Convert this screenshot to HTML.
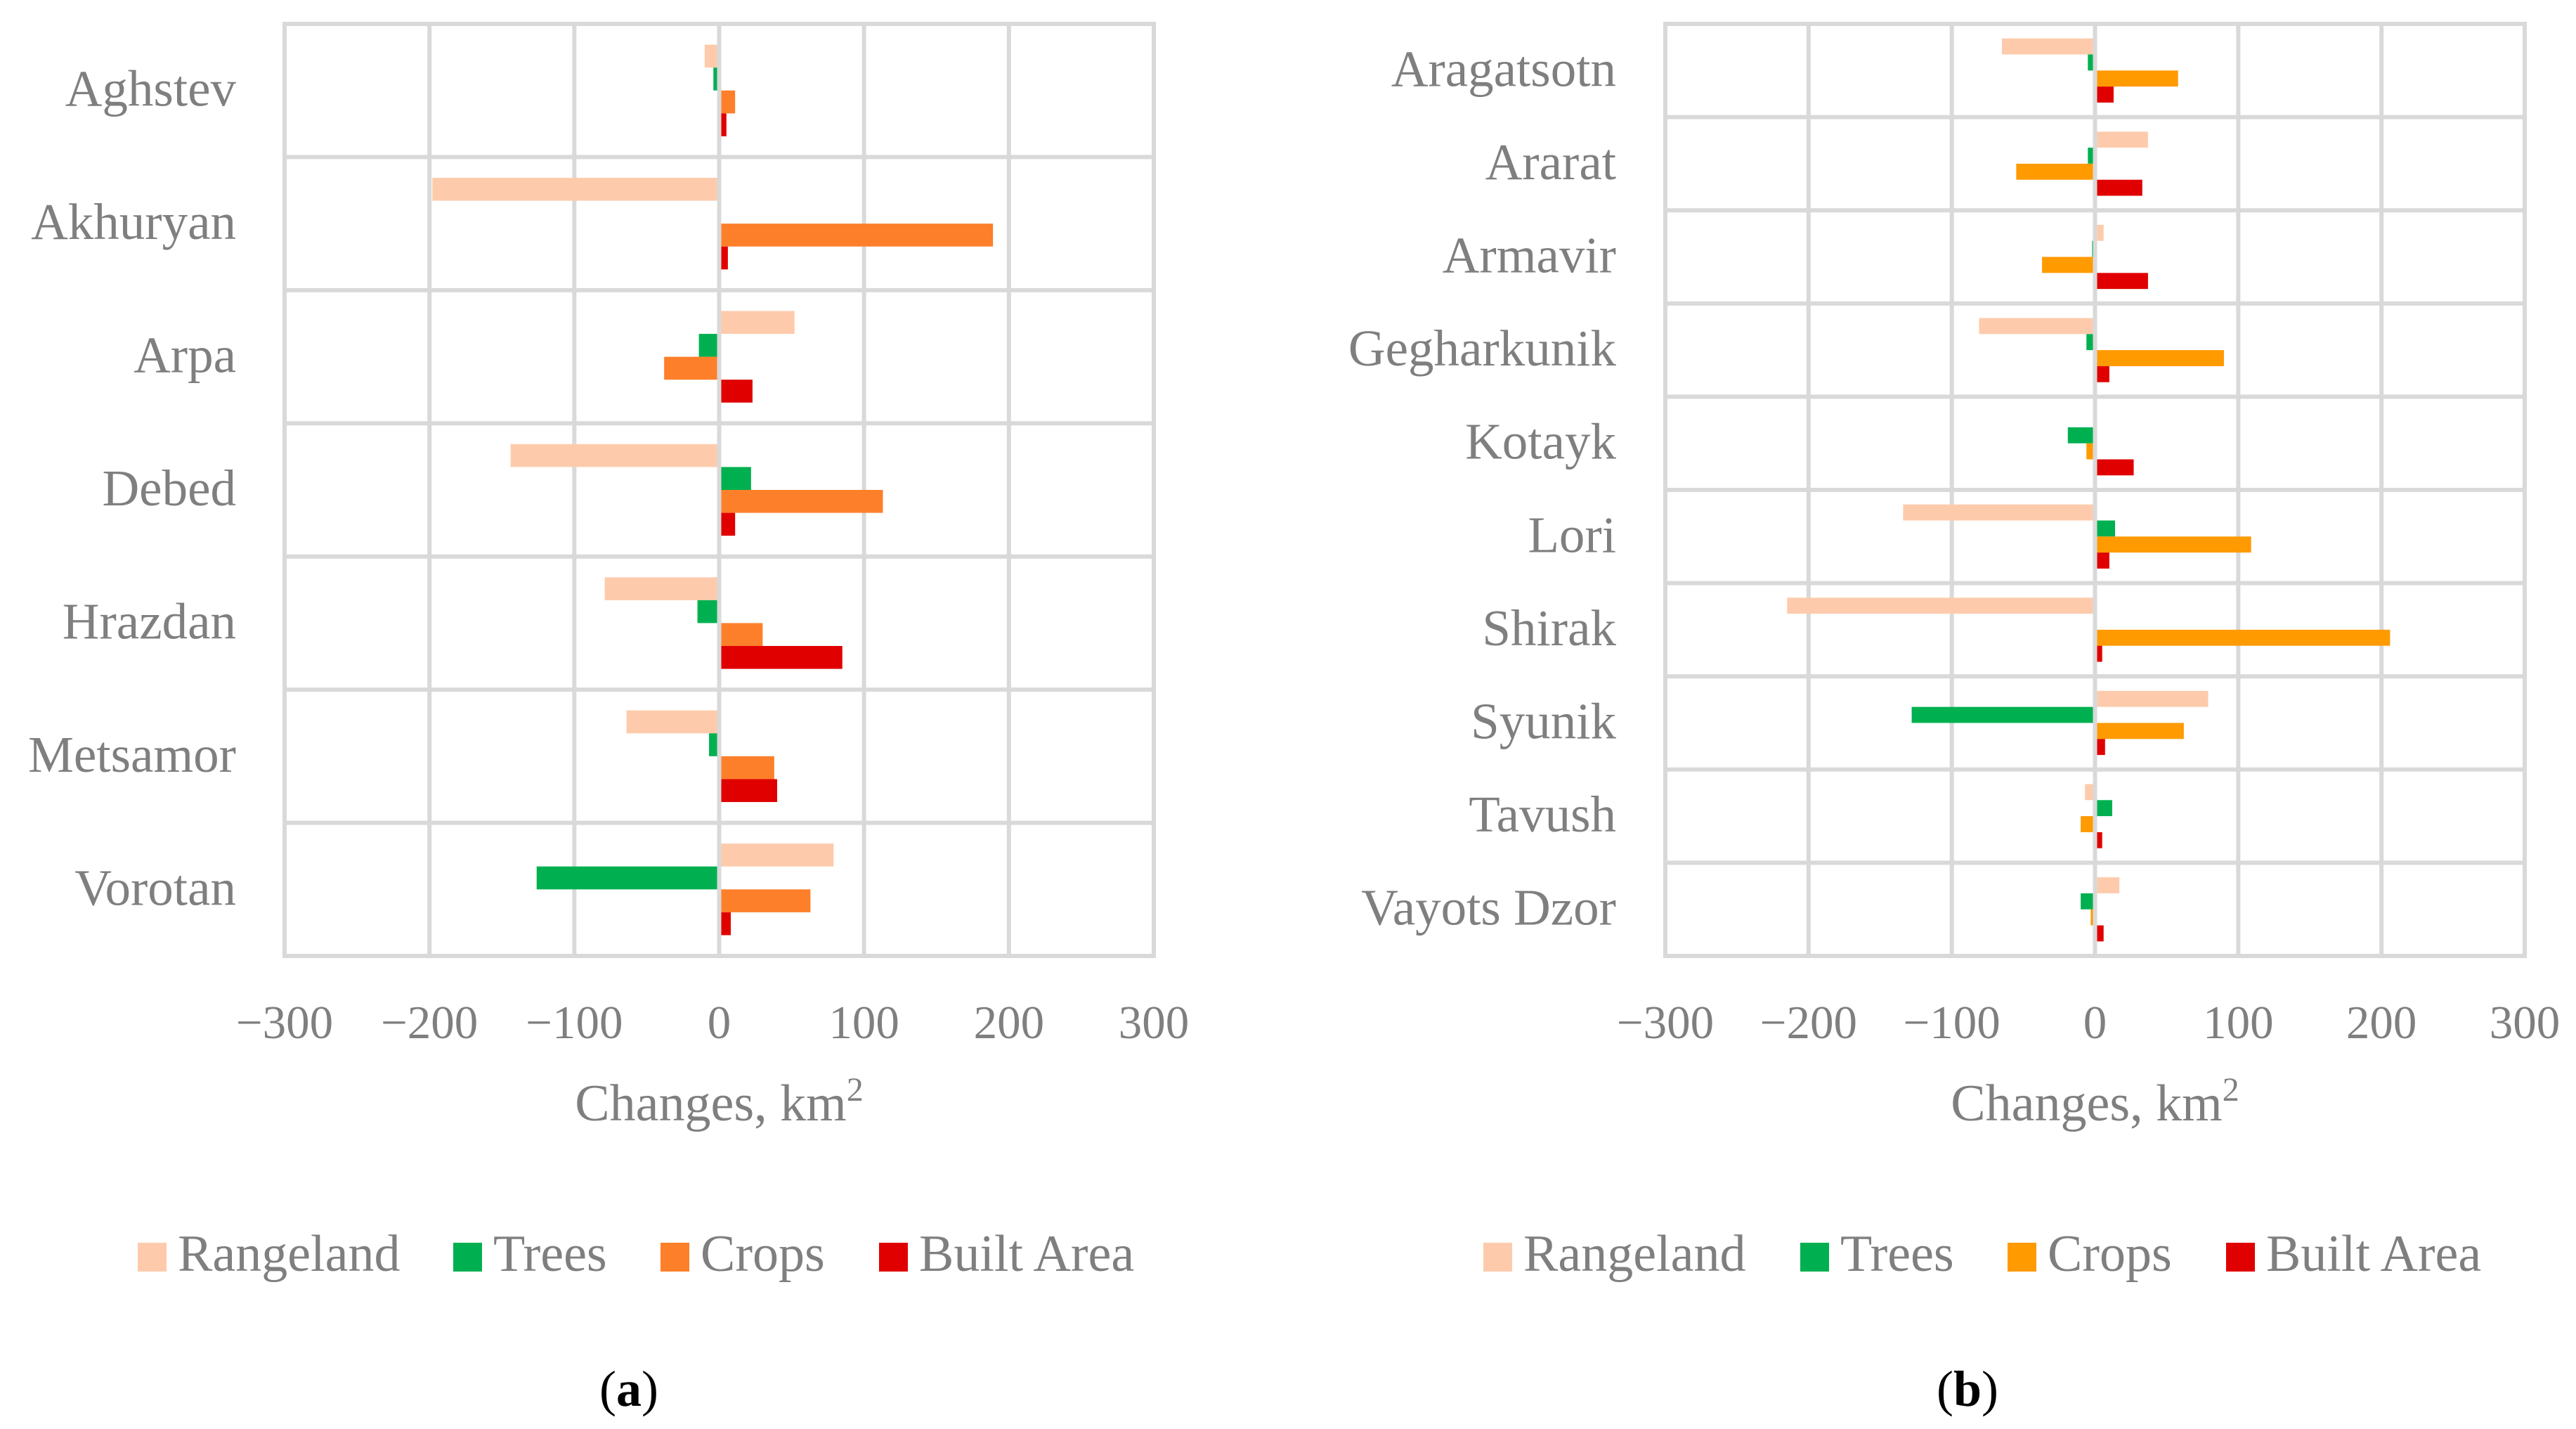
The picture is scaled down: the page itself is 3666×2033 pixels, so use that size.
<!DOCTYPE html>
<html><head><meta charset="utf-8">
<style>
html,body{margin:0;padding:0;background:#fff;}
svg{display:block;}
text{font-family:"Liberation Serif",serif;}
</style></head>
<body>
<svg id="fig" width="3666" height="2033" viewBox="0 0 3666 2033" xmlns="http://www.w3.org/2000/svg"></svg>
<script>
// ---- data chart (a): river basins ----
const catsA = ["Aghstev","Akhuryan","Arpa","Debed","Hrazdan","Metsamor","Vorotan"];
const rangelandA = [-10,-198,52,-144,-79,-64,79];
const treesA = [-4,0,-14,22,-15,-7,-126];
const cropsA = [11,189,-38,113,30,38,63];
const builtA = [5,6,23,11,85,40,8];
// ---- data chart (b): provinces ----
const catsB = ["Aragatsotn","Ararat","Armavir","Gegharkunik","Kotayk","Lori","Shirak","Syunik","Tavush","Vayots Dzor"];
const rangelandB = [-65,37,6,-81,1,-134,-215,79,-7,17];
const treesB = [-5,-5,-2,-6,-19,14,0,-128,12,-10];
const cropsB = [58,-55,-37,90,-6,109,206,62,-10,-3];
const builtB = [13,33,37,10,27,10,5,7,5,6];
const ticks = [-300,-200,-100,0,100,200,300];
const tickLabels = ["\u2212300","\u2212200","\u2212100","0","100","200","300"];
const seriesNames = ["Rangeland","Trees","Crops","Built Area"];

const NS="http://www.w3.org/2000/svg";
const svg=document.getElementById('fig');
function mk(tag,attrs,parent){const e=document.createElementNS(NS,tag);for(const k in attrs)e.setAttribute(k,attrs[k]);(parent||svg).appendChild(e);return e;}

function chart(o){
  const g=mk('g',{});
  
  
  const L=o.left,R=o.right,T=34,B=1360;
  const xs=v=>L+(v+300)/600*(R-L);
  const n=o.cats.length, band=(B-T)/n;
  ticks.forEach((t,i)=>{
    const ln=mk('line',{x1:xs(t),x2:xs(t),y1:T,y2:B,stroke:'#d9d9d9','stroke-width':6},g);
    
    
    const tx=mk('text',{x:xs(t),y:1477,'font-size':67,fill:'#7f7f7f','text-anchor':'middle'},g);
    tx.textContent=tickLabels[i];
    
    
  });
  for(let i=0;i<=n;i++){
    const ln=mk('line',{x1:L-3,x2:R+3,y1:T+i*band,y2:T+i*band,stroke:'#d9d9d9','stroke-width':6},g);
    
    
  }
  const series=[o.r,o.t,o.c,o.b];
  const bh=band*0.172, off=band*0.156;
  o.cats.forEach((c,i)=>{
    const y0=T+i*band;
    const lb=mk('text',{x:o.labelX,y:y0+band/2+22,'font-size':73,fill:'#7f7f7f','text-anchor':'end'},g);
    lb.textContent=c;
    
    
    series.forEach((s,j)=>{
      const v=s[i];
      const w=Math.abs(xs(v)-xs(0))-3;
      const rc=mk('rect',{x:v>=0?xs(0)+3:xs(v),y:y0+off+j*bh,width:Math.max(0,w),height:bh,fill:o.colors[j]},g);
      
      
    });
  });
  const at=mk('text',{x:xs(0),y:1594,'font-size':74,fill:'#7f7f7f','text-anchor':'middle'},g);
  at.innerHTML='Changes, km<tspan dy="-28" font-size="48">2</tspan>';
  
  
  seriesNames.forEach((nm,j)=>{
    const sw=mk('rect',{x:o.legSw[j],y:1768,width:41,height:41,fill:o.colors[j]},g);
    
    
    const lt=mk('text',{x:o.legSw[j]+57,y:1808,'font-size':74,fill:'#7f7f7f'},g);
    lt.textContent=nm;
    
    
  });
  const pl=mk('text',{x:o.panelX,y:2000,'font-size':72,fill:'#000','text-anchor':'middle'},g);
  pl.innerHTML='(<tspan font-weight="bold">'+o.panel+'</tspan>)';
  
  
}
chart({name:'chart-a-river-basins',left:405,right:1642,labelX:336,cats:catsA,r:rangelandA,t:treesA,c:cropsA,b:builtA,
  colors:['#fdcbac','#00b050','#fd7f2a','#e00000'],legSw:[196,645,940,1251],panelX:895,panel:'a'});
chart({name:'chart-b-provinces',left:2370,right:3593,labelX:2300,cats:catsB,r:rangelandB,t:treesB,c:cropsB,b:builtB,
  colors:['#fdcbac','#00b050','#ff9a00','#e00000'],legSw:[2111,2562,2857,3168],panelX:2800,panel:'b'});
</script>
</body></html>
